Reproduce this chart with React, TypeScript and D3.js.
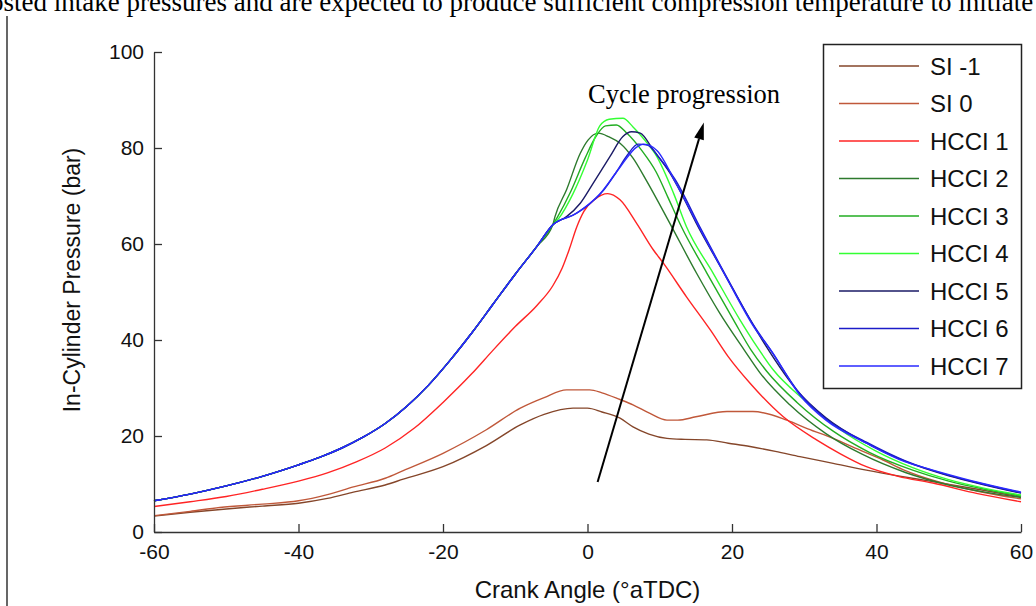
import * as d3 from 'd3';
import React, { ReactElement, useEffect, useRef } from 'react';

const WIDTH = 1036;
const HEIGHT = 606;
const PLOT = { left: 154, right: 1021, top: 52, bottom: 532 };
const SANS = '"Liberation Sans", Arial, sans-serif';
const SERIF = '"Liberation Serif", "Times New Roman", serif';

const xTicks = [-60, -40, -20, 0, 20, 40, 60];
const yTicks = [0, 20, 40, 60, 80, 100];

// crank angle (deg aTDC), pressure (bar)
const siMinus1 = [
  [-60, 3.3], [-55, 4.1], [-50, 4.8], [-45, 5.4], [-40, 6.0], [-36, 7.0], [-32.4, 8.3],
  [-28, 9.8], [-25.5, 11], [-20, 13.6], [-14, 18], [-9.3, 22.3], [-6, 24.5], [-2, 25.8],
  [0, 25.8], [2, 25], [4.5, 23.7], [6.3, 21.9], [8.5, 20.4], [11, 19.5], [13.5, 19.3],
  [16.5, 19.2], [19.5, 18.5], [22.5, 17.8], [26, 16.8], [29.4, 15.7], [34, 14.3],
  [38.6, 12.9], [43, 11.7], [47.8, 10.5], [54, 8.9], [60, 7.3],
];
const si0 = [
  [-60, 3.4], [-55, 4.3], [-50.9, 5.1], [-45, 5.8], [-40, 6.5], [-36, 7.8], [-32.4, 9.4],
  [-28, 11.2], [-25.5, 12.8], [-20, 16.4], [-14, 21.3], [-9.3, 25.8], [-6, 28], [-2.9, 29.6],
  [0.3, 29.6], [2, 29], [4.5, 27.6], [6.3, 26.5], [8.5, 24.8], [11, 23.3], [12.5, 23.3],
  [15, 24], [19.3, 25.1], [22.9, 25.1], [27.6, 23.3], [30.5, 21.5], [34, 19.5], [37.5, 17.2],
  [40.9, 15], [44, 12.8], [47.8, 10.8], [54, 8.5], [60, 6.9],
];
const hcci1 = [
  [-60, 5.3], [-55, 6.3], [-50, 7.4], [-45, 8.9], [-40, 10.6], [-36, 12.3], [-32, 14.6],
  [-28, 17.5], [-24, 21.6], [-20, 27], [-16, 33], [-13, 38], [-10, 42.8], [-7, 47.2],
  [-4.8, 51.3], [-3.5, 55], [-2.5, 59], [-1.5, 63.5], [-0.5, 66.8],
  [1, 69.3], [2.8, 70.5], [4.5, 69.2], [6.8, 64.3], [9.1, 58.8], [10.5, 56], [13.7, 49],
  [17, 42.1], [19.5, 36.5], [22.5, 31], [27.1, 24], [31.7, 19.2], [35, 16.3], [38.6, 13.6],
  [43, 11.6], [47.8, 10.2], [54, 8], [60, 6.3],
];

// shared compression stroke of HCCI 2-7, up to the point where they split
const compression = [
  [-60, 6.5], [-55, 7.9], [-50, 9.6], [-45, 11.6], [-40, 14.0], [-37, 15.6], [-34, 17.5],
  [-31, 19.8], [-28, 22.6], [-25, 26.2], [-22, 30.6], [-19, 35.8], [-16, 41.5], [-13, 47.6],
  [-10, 53.7], [-7, 59.5], [-4.8, 64],
];
const hcci2Tail = [
  [-4.5, 65.7], [-2.9, 71.3], [-1, 78.9], [0.1, 81.7], [1.5, 83.1], [3, 82.3], [4.5, 81],
  [6.3, 77.9], [8.2, 73.1], [11.4, 64.3], [15.1, 53.9], [18.3, 45.6], [21.7, 37.9],
  [23.9, 33.1], [28, 26.5], [33, 20.5], [38, 16.2], [44, 12.4], [50, 9.8], [55, 8.3], [60, 7.2],
];
const hcci3Tail = [
  [-4.2, 65.5], [-2.3, 71], [-0.3, 78], [1.2, 82.5], [2.5, 84.6], [4, 84.8], [5.5, 83],
  [7.5, 79.5], [9.5, 75], [11.2, 69.5], [13, 63.6], [16.5, 54], [20.2, 44.2], [22.6, 38],
  [24.8, 33.5], [29, 27], [34, 21], [39, 16.6], [45, 12.9], [50, 10.6], [55, 8.9], [60, 7.5],
];
const hcci4Tail = [
  [-4, 65.3], [-2, 70.5], [0, 77.5], [1.7, 84.6], [3, 86], [4.9, 86.2], [6.3, 84.4],
  [8, 81.5], [9.6, 78.2], [11.9, 70.6], [13.7, 63.6], [17.4, 53.9], [21.1, 44.2],
  [23.5, 38.5], [25.7, 33.8], [30, 27.5], [35, 21.3], [40, 16.8], [45, 13.4], [50, 10.9],
  [55, 9.1], [60, 7.7],
];
const hcci5Tail = [
  [-2.9, 65.7], [-1, 68.5], [0.8, 72.7], [3.1, 78.2], [4.9, 82.4], [6.1, 83.4], [7.3, 83.1],
  [9.1, 79.6], [11.4, 74.8], [13, 70.5], [15, 64.5], [18.8, 54.2], [22.4, 44.5], [24.8, 38.5],
  [29, 29.5], [33, 23.8], [38.5, 18.6], [44, 14.7], [50, 11.7], [55, 9.8], [60, 8.1],
];
const hcci6Tail = [
  [-2, 66], [0, 68], [2, 70.8], [4, 75], [5.5, 78.5], [7, 80.8], [8.3, 80.6], [10, 77.8],
  [12.1, 73.5], [15.6, 63.4], [19.3, 53], [22.9, 43.3], [25.4, 37.8], [29.4, 28.8], [33, 23.6],
  [38.6, 18.7], [44, 14.8], [50, 11.8], [55, 9.9], [60, 8.2],
];
const hcci7Tail = [
  [-1.5, 66.4], [1.7, 70.4], [4.5, 76], [6.8, 80.2], [7.8, 80.8], [9.6, 79.5], [12.3, 72.5],
  [15.7, 62.8], [19.4, 52.5], [23, 42.8], [25.5, 37.6], [29.4, 28.5], [33, 23.3], [38.6, 18.5],
  [44, 14.6], [47.8, 12.9], [55, 10], [60, 8.3],
];

const seriesNames = ['SI -1', 'SI 0', 'HCCI 1', 'HCCI 2', 'HCCI 3', 'HCCI 4', 'HCCI 5', 'HCCI 6', 'HCCI 7'];
const seriesColors = ['#85462a', '#c0583a', '#ff2424', '#2d7a2d', '#22ad22', '#33ff33', '#1a1a66', '#1c1cc8', '#2a2aff'];
const seriesData = [
  siMinus1,
  si0,
  hcci1,
  compression.concat(hcci2Tail),
  compression.concat(hcci3Tail),
  compression.concat(hcci4Tail),
  compression.concat(hcci5Tail),
  compression.concat(hcci6Tail),
  compression.concat(hcci7Tail),
];

// annotation arrow in data coordinates: tail, tip
const arrowTail = [1.4, 10.4];
const arrowTip = [16.1, 85.3];

const Chart = (): ReactElement => {
  const ref = useRef(null);

  useEffect(() => {
    const svg = d3
      .select(ref.current)
      .append('svg')
      .attr('width', WIDTH)
      .attr('height', HEIGHT)
      .style('position', 'absolute')
      .style('left', 0)
      .style('top', 0)
      .style('background', '#fff');

    const x = d3.scaleLinear().domain([-60, 60]).range([PLOT.left, PLOT.right]);
    const y = d3.scaleLinear().domain([0, 100]).range([PLOT.bottom, PLOT.top]);

    // clipped line of the surrounding document
    svg
      .append('text')
      .attr('x', -10)
      .attr('y', 11)
      .attr('font-family', SERIF)
      .attr('font-size', 27)
      .attr('fill', '#000')
      .text('osted intake pressures and are expected to produce sufficient compression temperature to initiate');
    svg
      .append('line')
      .attr('x1', 7)
      .attr('x2', 7)
      .attr('y1', 16)
      .attr('y2', HEIGHT)
      .attr('stroke', '#000')
      .attr('stroke-width', 1.2);

    const line = d3
      .line()
      .x((d) => x(d[0]))
      .y((d) => y(d[1]))
      .curve(d3.curveMonotoneX);

    svg
      .append('g')
      .selectAll('path')
      .data(seriesData)
      .enter()
      .append('path')
      .attr('d', (d) => line(d))
      .attr('fill', 'none')
      .attr('stroke', (d, i) => seriesColors[i])
      .attr('stroke-width', 1.4);

    // axes, ticks point inward
    const fmt = (d) => String(d);
    const xAxis = svg
      .append('g')
      .attr('transform', `translate(0,${PLOT.bottom})`)
      .call(d3.axisBottom(x).tickValues(xTicks).tickFormat(fmt).tickSizeInner(-8).tickSizeOuter(0).tickPadding(12));
    const yAxis = svg
      .append('g')
      .attr('transform', `translate(${PLOT.left},0)`)
      .call(d3.axisLeft(y).tickValues(yTicks).tickFormat(fmt).tickSizeInner(-8).tickSizeOuter(0).tickPadding(10));

    [xAxis, yAxis].forEach((g) => {
      g.attr('font-family', SANS).attr('font-size', 21);
      g.selectAll('path, line').attr('stroke', '#333').attr('stroke-width', 1.3);
      g.selectAll('text').attr('fill', '#111');
    });

    svg
      .append('text')
      .attr('x', (PLOT.left + PLOT.right) / 2)
      .attr('y', 598)
      .attr('text-anchor', 'middle')
      .attr('font-family', SANS)
      .attr('font-size', 24)
      .attr('fill', '#111')
      .text('Crank Angle (°aTDC)');
    svg
      .append('text')
      .attr('transform', `translate(80,280) rotate(-90)`)
      .attr('text-anchor', 'middle')
      .attr('font-family', SANS)
      .attr('font-size', 23)
      .attr('fill', '#111')
      .text('In-Cylinder Pressure (bar)');

    // annotation
    const tx = x(arrowTail[0]);
    const ty = y(arrowTail[1]);
    const hx = x(arrowTip[0]);
    const hy = y(arrowTip[1]);
    const ang = Math.atan2(hy - ty, hx - tx);
    const headLen = 17;
    const headW = 5;
    const bx = hx - headLen * Math.cos(ang);
    const by = hy - headLen * Math.sin(ang);
    svg
      .append('line')
      .attr('x1', tx)
      .attr('y1', ty)
      .attr('x2', bx)
      .attr('y2', by)
      .attr('stroke', '#000')
      .attr('stroke-width', 2);
    svg
      .append('path')
      .attr(
        'd',
        `M${hx},${hy}L${bx + headW * Math.sin(ang)},${by - headW * Math.cos(ang)}L${bx - headW * Math.sin(ang)},${by + headW * Math.cos(ang)}Z`,
      )
      .attr('fill', '#000');
    svg
      .append('text')
      .attr('x', 588)
      .attr('y', 103)
      .attr('font-family', SERIF)
      .attr('font-size', 26.5)
      .attr('fill', '#000')
      .text('Cycle progression');

    // legend
    const legend = svg.append('g');
    legend
      .append('rect')
      .attr('x', 823.5)
      .attr('y', 44.5)
      .attr('width', 198)
      .attr('height', 344)
      .attr('fill', '#fff')
      .attr('stroke', '#222')
      .attr('stroke-width', 1.5);
    const rows = legend
      .selectAll('g.row')
      .data(seriesNames)
      .enter()
      .append('g')
      .attr('class', 'row')
      .attr('transform', (d, i) => `translate(0,${66 + i * 37.5})`);
    rows
      .append('line')
      .attr('x1', 839)
      .attr('x2', 919)
      .attr('stroke', (d, i) => seriesColors[i])
      .attr('stroke-width', 1.5);
    rows
      .append('text')
      .attr('x', 930)
      .attr('dy', '0.36em')
      .attr('font-family', SANS)
      .attr('font-size', 24)
      .attr('fill', '#111')
      .text((d) => d);

    return () => {
      d3.select(ref.current).selectAll('svg').remove();
    };
  }, []);

  return <div ref={ref}></div>;
};

export default function App(): ReactElement {
  return <Chart />;
}
